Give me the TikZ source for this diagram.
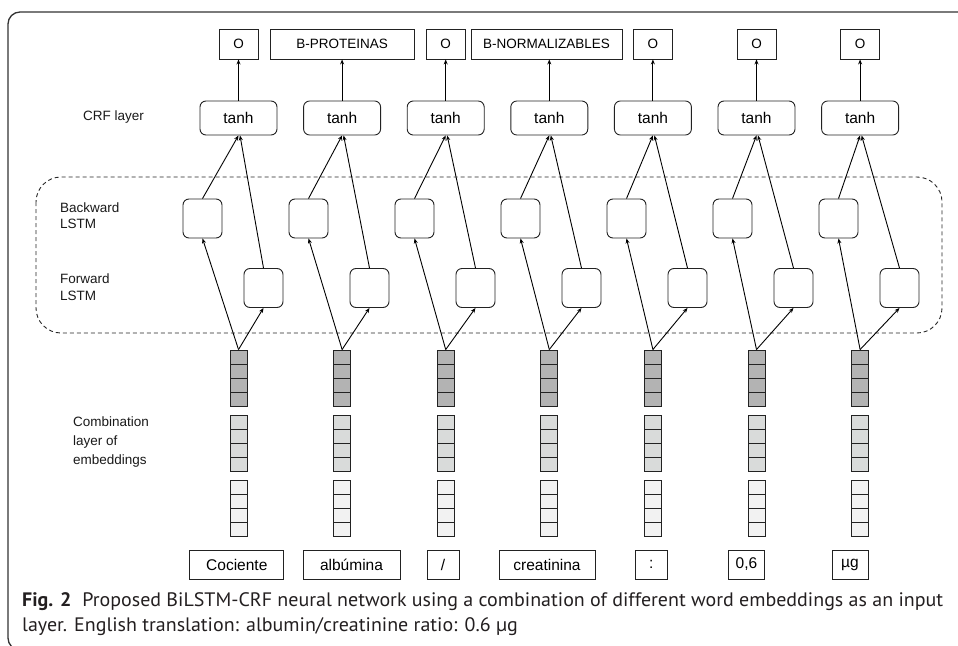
\documentclass[tikz,border=0pt]{standalone}
\usepackage{fontspec}
\usepackage{graphicx}
\setmainfont{Liberation Sans}
\newfontfamily\capfont{PT Sans}
\usetikzlibrary{arrows.meta}
\definecolor{edge}{HTML}{222222}
\definecolor{embdark}{HTML}{B3B3B3}
\definecolor{embmid}{HTML}{D9DBDA}
\definecolor{emblight}{HTML}{F2F2F2}
\definecolor{framec}{HTML}{333333}
\definecolor{captext}{HTML}{231F20}
\newlength\capw
\newcommand\capfirst{\textbf{Fig. 2}\hspace{0.55em}Proposed BiLSTM-CRF neural network using a combination of different word embeddings as an input}
\newcommand\capsecond{layer. English translation: albumin/creatinine ratio: 0.6 µg}
\newcommand\capsx{1}
\AtBeginDocument{%
  \settowidth\capw{\capfont\fontsize{19.5}{23}\selectfont\capfirst}%
  \pgfmathsetmacro\capsx{921/\capw}%
}
\begin{document}
\begin{tikzpicture}[x=1pt,y=-1pt,
  lbl/.style={align=left, anchor=west, inner sep=0, text=black!90},
  outbox/.style={draw=edge, line width=0.9, minimum height=30, minimum width=39, inner sep=0, font=\fontsize{13.5}{16}\selectfont},
  tanhbox/.style={draw=edge, line width=0.9, rounded corners=6, minimum width=77, minimum height=34, inner sep=0, font=\fontsize{15.5}{18}\selectfont},
  lstm/.style={draw=edge, line width=0.9, rounded corners=6, minimum size=39, inner sep=0},
  cell/.style={draw=edge, line width=0.9, minimum width=17, minimum height=14, inner sep=0},
  inbox/.style={draw=edge, line width=0.9, minimum height=29, inner sep=0, font=\fontsize{15.5}{18}\selectfont},
  arr/.style={-{Stealth[length=5,width=4]}, line width=0.9, draw=black},
]
\path[use as bounding box] (0,0) rectangle (958,645);
\clip (0,0) rectangle (958,645);

% outer frame
\draw[framec, line width=1.3, rounded corners=12] (8,12) rectangle (1000,650);

% dashed LSTM group
\draw[black!85, line width=0.9, dash pattern=on 4 off 3, rounded corners=25] (36,177) rectangle (942,333);

% left labels
\node[lbl, font=\fontsize{13.5}{16}\selectfont] (crf) at (83,117) {CRF layer};
\node[lbl, font=\fontsize{13.5}{16}\selectfont] (bwl) at (60,216) {Backward\\LSTM};
\node[lbl, font=\fontsize{13.5}{17}\selectfont] (fwl) at (60,287.5) {Forward\\LSTM};
\node[lbl, font=\fontsize{13.5}{19}\selectfont] (cml) at (73,442) {Combination\\layer of\\embeddings};

% output labels
\node[outbox] (o0) at (238.5,44) {O};
\node[outbox, minimum width=144] (o1) at (342.1,44) {B-PROTEINAS};
\node[outbox] (o2) at (445.7,44) {O};
\node[outbox, minimum width=151] (o3) at (546.5,44) {B-NORMALIZABLES};
\node[outbox] (o4) at (652.9,44) {O};
\node[outbox] (o5) at (756.5,44) {O};
\node[outbox] (o6) at (860.1,44) {O};

% columns
\foreach \i in {0,...,6} {
  \pgfmathsetmacro\cx{238.5+103.6*\i}
  \pgfmathsetmacro\bx{202.5+106*\i}
  \pgfmathsetmacro\fx{263.5+106*\i}
  \node[tanhbox] (t\i) at (\cx,118) {tanh};
  \node[lstm] (b\i) at (\bx,218.5) {};
  \node[lstm] (f\i) at (\fx,288) {};
  \foreach \k in {0,...,3} {
    \node[cell, fill=embdark] (d\i\k) at (\cx,357+14*\k) {};
    \node[cell, fill=embmid] (m\i\k) at (\cx,422+14*\k) {};
    \node[cell, fill=emblight] (l\i\k) at (\cx,487+14*\k) {};
  }
  \draw[arr] (d\i0.north) -- (b\i.south);
  \draw[arr] (d\i0.north) -- (f\i.south);
  \draw[arr] (b\i.north) -- (t\i.south);
  \draw[arr] (f\i.north) -- ([xshift=1.5]t\i.south);
  \draw[arr] (t\i.north) -- (t\i.north |- o\i.south);
}

% input words
\node[inbox, minimum width=94] (w0) at (236.8,564.5) {Cociente};
\node[inbox, minimum width=97] (w1) at (351.5,564.5) {albúmina};
\node[inbox, minimum width=32] (w2) at (443,564.5) {/};
\node[inbox, minimum width=96] (w3) at (547,564.5) {creatinina};
\node[inbox, minimum width=32] (w4) at (651.2,564.5) {:};
\node[inbox, minimum width=36] (w5) at (746.5,564.5) {0,6};
\node[inbox, minimum width=36] (w6) at (850,564.5) {µg};

% caption
\node[anchor=base west, inner sep=0, text=captext] (cap1) at (22,606)
  {\scalebox{\capsx}[1]{\capfont\fontsize{19.5}{23}\selectfont\capfirst}};
\node[anchor=base west, inner sep=0, text=captext] (cap2) at (22,631)
  {\scalebox{\capsx}[1]{\capfont\fontsize{19.5}{23}\selectfont\capsecond}};
\end{tikzpicture}
\end{document}
